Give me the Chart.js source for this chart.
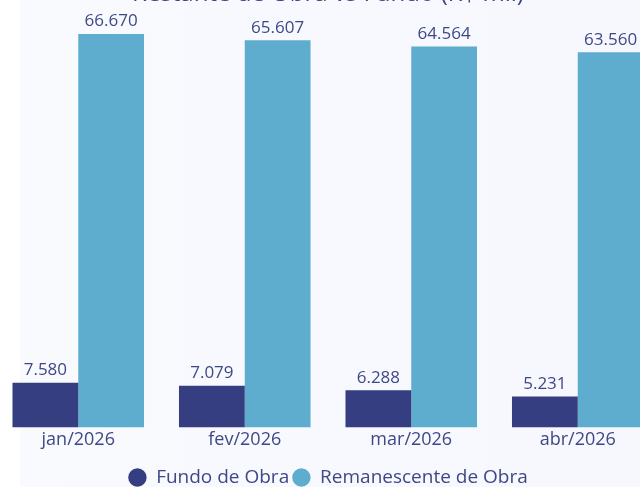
<!DOCTYPE html>
<html>
<head>
<meta charset="utf-8">
<script src="https://cdn.jsdelivr.net/npm/chart.js@4"></script>
<style>
  html, body { margin: 0; padding: 0; width: 640px; height: 487px; overflow: hidden; }
  body { background: linear-gradient(90deg, #ffffff 0px, #ffffff 20px, #f9fafe 20px, #f6f8fe 100%); position: relative; }
  #wrap { position: absolute; left: -5px; top: -20px; width: 666px; height: 517px; }
</style>
</head>
<body>
<div id="wrap"><canvas id="chart"></canvas></div>
<script>
const months = ['jan/2026', 'fev/2026', 'mar/2026', 'abr/2026'];
const fundo = [7580, 7079, 6288, 5231];
const remanescente = [66670, 65607, 64564, 63560];

const textColor = '#3e4886';
const fontFamily = "'Open Sans', 'Noto Sans', sans-serif";

// draws the value above every bar (pt-BR format: 66.670)
const barLabels = {
	id: 'barLabels',
	afterDatasetsDraw(chart) {
		const ctx = chart.ctx;
		ctx.save();
		ctx.fillStyle = textColor;
		ctx.font = '17px ' + fontFamily;
		ctx.textAlign = 'center';
		ctx.textBaseline = 'bottom';
		chart.data.datasets.forEach((ds, i) => {
			chart.getDatasetMeta(i).data.forEach((bar, j) => {
				const txt = ds.data[j].toLocaleString('pt-BR');
				ctx.fillText(txt, bar.x, bar.y - 4);
			});
		});
		ctx.restore();
	}
};

const config = {
	type: 'bar',
	data: {
		labels: months,
		datasets: [
			{
				label: 'Fundo de Obra',
				data: fundo,
				backgroundColor: '#343e80',
				borderWidth: 0
			},
			{
				label: 'Remanescente de Obra',
				data: remanescente,
				backgroundColor: '#5eacce',
				borderWidth: 0
			}
		]
	},
	options: {
		responsive: true,
		maintainAspectRatio: false,
		animation: false,
		categoryPercentage: 0.79,
		barPercentage: 1.0,
		layout: { padding: 0 },
		plugins: {
			title: {
				display: true,
				text: 'Restante de Obra vs Fundo (R$ mil)',
				color: textColor,
				font: { family: fontFamily, size: 24, weight: 'normal' },
				padding: { top: 0, bottom: 10 }
			},
			legend: {
				position: 'bottom',
				labels: {
					usePointStyle: true,
					pointStyle: 'circle',
					boxWidth: 13,
					boxHeight: 13,
					pointStyleWidth: 18.4,
					color: textColor,
					font: { family: fontFamily, size: 19 },
					padding: 3
				}
			},
			tooltip: { enabled: false }
		},
		scales: {
			x: {
				grid: { display: false, drawTicks: false },
				border: { display: false },
				ticks: {
					color: textColor,
					font: { family: fontFamily, size: 18 },
					padding: 2
				},
				afterFit(scale) {
					scale.height += 12;
				}
			},
			y: {
				display: false,
				min: 0,
				max: 69250
			}
		}
	},
	plugins: [barLabels]
};

document.addEventListener('DOMContentLoaded', () => {
	const ctx = document.getElementById('chart');
	const chartAll = new Chart(ctx, config);
});
</script>
</body>
</html>
